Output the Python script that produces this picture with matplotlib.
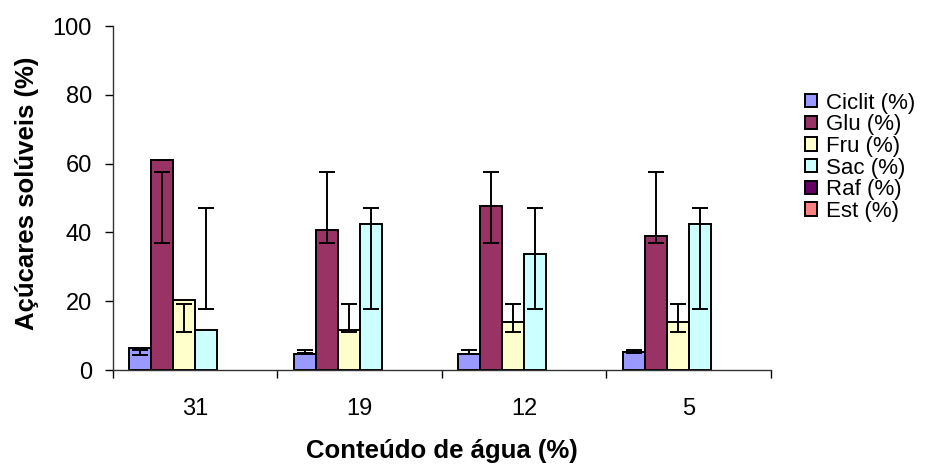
"""Acucares soluveis por conteudo de agua - barras agrupadas com barras de erro."""

import matplotlib
matplotlib.use("Agg")
import matplotlib.pyplot as plt
import numpy as np

plt.rcParams["font.family"] = ["Liberation Sans", "DejaVu Sans"]

# ----------------------------------------------------------------------------
# Dados
# ----------------------------------------------------------------------------
categorias = ["31", "19", "12", "5"]
series = ["Ciclit (%)", "Glu (%)", "Fru (%)", "Sac (%)", "Raf (%)", "Est (%)"]
cores = ["#9999FF", "#993366", "#FFFFCC", "#CCFFFF", "#660066", "#FF8080"]

ciclit = [6.3, 4.6, 4.6, 5.1]
glu = [61.0, 40.6, 47.7, 38.9]
fru = [20.3, 11.6, 14.0, 14.0]
sac = [11.6, 42.4, 33.7, 42.4]
raf = [np.nan, np.nan, np.nan, np.nan]
est = [np.nan, np.nan, np.nan, np.nan]

# limites inferior / superior das barras de erro
ciclit_lo = [4.4, 4.8, 4.6, 4.9]
ciclit_hi = [5.8, 5.8, 5.8, 5.8]
glu_lo = [37.0, 37.0, 37.0, 37.0]
glu_hi = [57.5, 57.5, 57.5, 57.5]
fru_lo = [11.0, 11.0, 11.0, 11.0]
fru_hi = [19.2, 19.2, 19.2, 19.2]
sac_lo = [17.8, 17.8, 17.8, 17.8]
sac_hi = [47.1, 47.1, 47.1, 47.1]

valores = [ciclit, glu, fru, sac, raf, est]
erros = {0: (ciclit_lo, ciclit_hi), 1: (glu_lo, glu_hi),
         2: (fru_lo, fru_hi), 3: (sac_lo, sac_hi)}

# ----------------------------------------------------------------------------
# Plot
# ----------------------------------------------------------------------------
fig = plt.figure(figsize=(9.33, 4.68), dpi=100)
ax = fig.add_axes([0.1208, 0.2094, 0.7056, 0.735])

x = np.arange(len(categorias), dtype=float)
n = len(series)
w = 1.0 / (n + 1.5)

for k, (nome, vals, cor) in enumerate(zip(series, valores, cores)):
    xs = x + (k - (n - 1) / 2) * w
    ax.bar(xs, vals, width=w, color=cor, edgecolor="black",
           linewidth=1.4, label=nome, zorder=2)
    if k in erros:
        lo, hi = np.array(erros[k][0]), np.array(erros[k][1])
        ax.errorbar(xs, (lo + hi) / 2, yerr=(hi - lo) / 2, fmt="none",
                    ecolor="black", elinewidth=1.4, capsize=6,
                    capthick=1.4, zorder=3)

ax.set_xlim(-0.5, len(categorias) - 0.5)
ax.set_ylim(0, 100)
ax.set_yticks(np.arange(0, 101, 20))
ax.set_xticks(x)
ax.set_xticklabels(categorias)
ax.set_xticks(np.arange(-0.5, len(categorias), 1.0), minor=True)

ax.tick_params(axis="x", which="major", length=0, pad=20, labelsize=17)
ax.tick_params(axis="x", which="minor", length=6, width=1.0, direction="out")
ax.tick_params(axis="y", length=6, width=1.0, pad=9, labelsize=17)

for side in ("top", "right"):
    ax.spines[side].set_visible(False)
for side in ("left", "bottom"):
    ax.spines[side].set_color("#333333")
    ax.spines[side].set_linewidth(1.0)

ax.set_ylabel("Açúcares solúveis (%)", fontsize=18.5, fontweight="bold")
ax.set_xlabel("Conteúdo de água (%)", fontsize=18.5, fontweight="bold")
ax.yaxis.set_label_coords(-0.112, 0.515)
ax.xaxis.set_label_coords(0.5, -0.20)

leg = fig.legend(loc="upper left", bbox_to_anchor=(0.851, 0.826),
                 frameon=False, fontsize=16, handlelength=0.55,
                 handleheight=0.55, handletextpad=0.4, labelspacing=0.03,
                 borderpad=0)

fig.savefig("out.png", dpi=100)
plt.close(fig)
